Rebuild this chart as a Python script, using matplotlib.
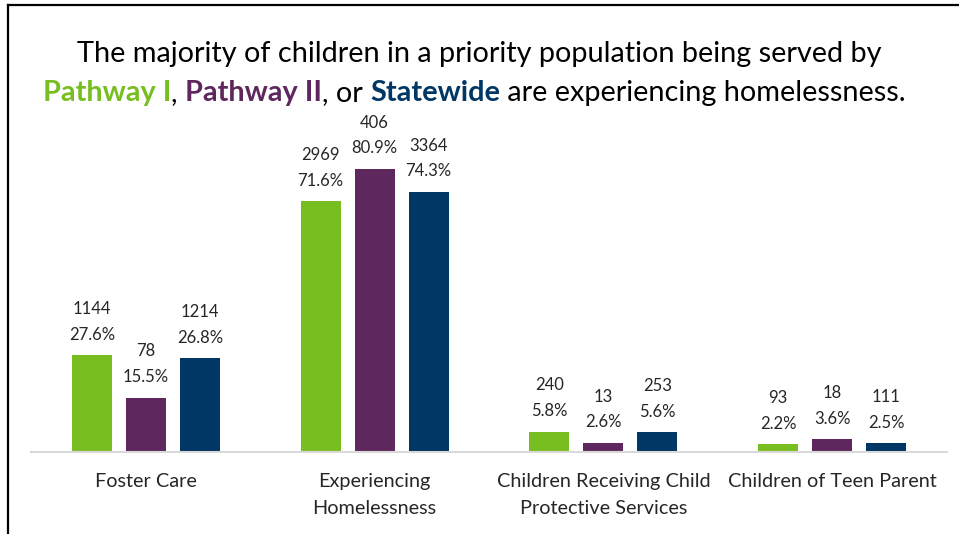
import matplotlib
matplotlib.use("Agg")
import matplotlib.pyplot as plt
import numpy as np
from matplotlib.lines import Line2D

plt.rcParams['font.family'] = ['Lato', 'DejaVu Sans']

categories = ["Foster Care", "Experiencing\nHomelessness",
              "Children Receiving Child\nProtective Services", "Children of Teen Parent"]
series_names = ["Pathway I", "Pathway II", "Statewide"]
pathway1_counts = [1144, 2969, 240, 93]
pathway1_pct = [27.6, 71.6, 5.8, 2.2]
pathway2_counts = [78, 406, 13, 18]
pathway2_pct = [15.5, 80.9, 2.6, 3.6]
statewide_counts = [1214, 3364, 253, 111]
statewide_pct = [26.8, 74.3, 5.6, 2.5]

colors = ["#78BE21", "#5E285E", "#003764"]

fig = plt.figure(figsize=(9.59, 5.34), dpi=100)
ax = fig.add_axes([0.0328, 0.1536, 0.9542, 0.6554])

x = np.arange(len(categories))
width = 0.175
step = 0.236
all_counts = [pathway1_counts, pathway2_counts, statewide_counts]
all_pct = [pathway1_pct, pathway2_pct, statewide_pct]

for i in range(3):
    xs = x + (i - 1) * step
    bars = ax.bar(xs, all_pct[i], width, color=colors[i], label=series_names[i])
    for b, c, p in zip(bars, all_counts[i], all_pct[i]):
        ax.annotate(f"{c}\n{p}%", (b.get_x() + b.get_width() / 2, b.get_height()),
                    xytext=(0, 9), textcoords="offset points",
                    ha="center", va="bottom", fontsize=12, color="#262626",
                    linespacing=1.75)

ax.set_xlim(-0.5, len(categories) - 0.5)
ax.set_ylim(0, 100)
for s in ["top", "right", "left"]:
    ax.spines[s].set_visible(False)
ax.spines["bottom"].set_color("#D9D9D9")
ax.spines["bottom"].set_linewidth(1.5)
ax.set_yticks([])
ax.set_xticks(x)
ax.set_xticklabels(categories, fontsize=14.3, color="#262626", linespacing=1.7)
ax.tick_params(axis="x", length=0, pad=15)

# title, first line
fig.text(0.5, 0.884, "The majority of children in a priority population being served by",
         ha="center", va="baseline", fontsize=20.8, color="black")

# title, second line with colored words
pieces = [("Pathway I", colors[0], "bold"), (", ", "black", "normal"),
          ("Pathway II", colors[1], "bold"), (", or ", "black", "normal"),
          ("Statewide", colors[2], "bold"),
          (" are experiencing homelessness.", "black", "normal")]
renderer = fig.canvas.get_renderer()
texts = []
for s, col, w in pieces:
    t = fig.text(0, 0.81, s, ha="left", va="baseline", fontsize=20.8, color=col, fontweight=w)
    texts.append(t)
widths = [t.get_window_extent(renderer).width for t in texts]
total = sum(widths)
xpos = (fig.bbox.width - total) / 2 - 5
for t, w in zip(texts, widths):
    t.set_x(xpos / fig.bbox.width)
    xpos += w

# border lines on left and top
fig.add_artist(Line2D([8 / 959, 8 / 959], [0, 1 - 5 / 534], color="black", lw=1.6))
fig.add_artist(Line2D([8 / 959, 1], [1 - 5 / 534, 1 - 5 / 534], color="black", lw=1.6))

fig.savefig("out.png", dpi=100)
